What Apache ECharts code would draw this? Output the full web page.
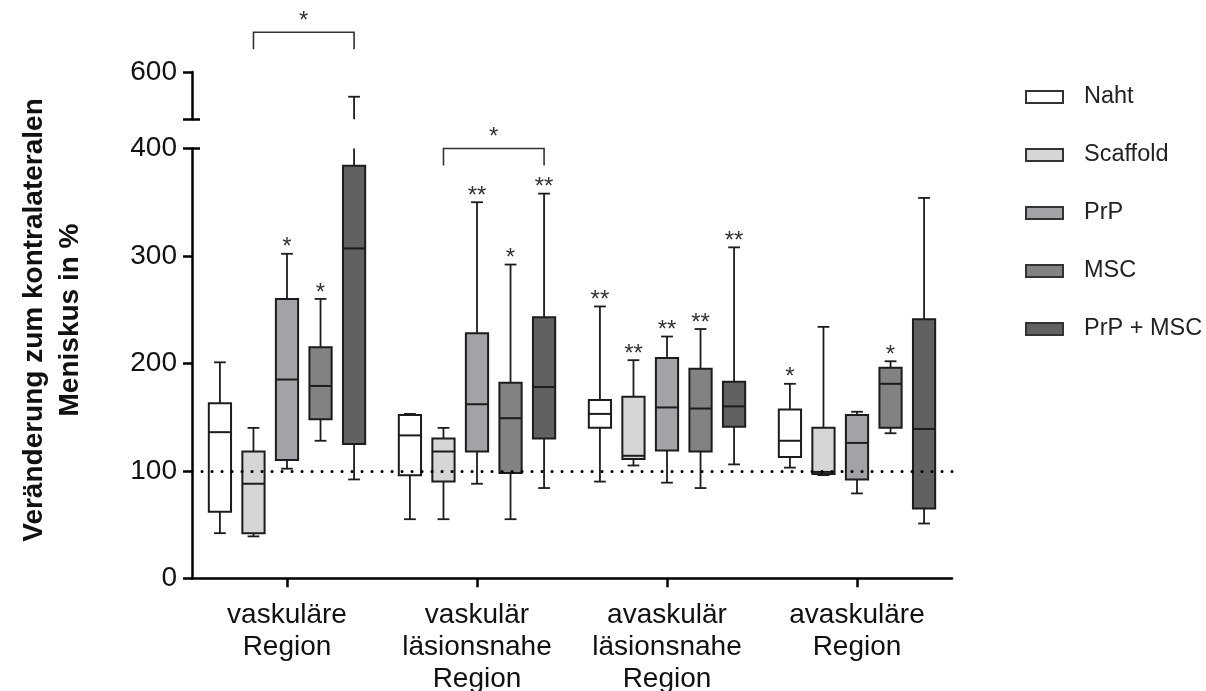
<!DOCTYPE html>
<html>
<head>
<meta charset="utf-8">
<script src="https://cdn.jsdelivr.net/npm/echarts@6/dist/echarts.min.js"></script>
<style>html,body{margin:0;padding:0;background:#fff}#c{width:1206px;height:691px}</style>
</head>
<body>
<div id="c"></div>
<script>
// ---------- data ----------
const categories = ['vaskuläre\nRegion', 'vaskulär\nläsionsnahe\nRegion', 'avaskulär\nläsionsnahe\nRegion', 'avaskuläre\nRegion'];
const groupNames = ['Naht', 'Scaffold', 'PrP', 'MSC', 'PrP + MSC'];
const groupColors = ['#ffffff', '#d6d6d6', '#a2a2a7', '#828282', '#616161'];

// each entry: [min, Q1, median, Q3, max] per category
const nahtValues     = [[42, 62, 136, 163, 201], [55, 96, 133, 152, 153], [90, 140, 153, 166, 253], [103, 113, 128, 157, 181]];
const scaffoldValues = [[39, 42, 88, 118, 140], [55, 90, 118, 130, 140], [105, 111, 114, 169, 203], [96, 97, 99, 140, 234]];
const prpValues      = [[102, 110, 185, 260, 302], [88, 118, 162, 228, 350], [89, 119, 159, 205, 225], [79, 92, 126, 152, 155]];
const mscValues      = [[128, 148, 179, 215, 260], [55, 98, 149, 182, 292], [84, 118, 158, 195, 232], [135, 140, 181, 196, 202]];
const prpMscValues   = [[92, 125, 307, 384, 577], [84, 130, 178, 243, 358], [106, 141, 160, 183, 308], [51, 65, 139, 241, 354]];

const nahtStars     = ['', '', '**', '*'];
const scaffoldStars = ['', '', '**', ''];
const prpStars      = ['*', '**', '**', ''];
const mscStars      = ['*', '*', '**', '*'];
const prpMscStars   = ['', '**', '**', ''];

const lowerAxisRange = [0, 400];
const upperAxisRange = [556, 600];
const upperTickValues = [556, 600];
const upperLabelValues = [600];
const referenceValue = 100;

const bracketCategories = [0, 1];
const bracketLevels = [637, 400];
const bracketLabels = ['*', '*'];
const bracketFromGroup = 1;
const bracketToGroup = 4;

// ---------- helpers ----------
const allValues = [nahtValues, scaffoldValues, prpValues, mscValues, prpMscValues];
const allStars = [nahtStars, scaffoldStars, prpStars, mscStars, prpMscStars];
const FONT = '"Liberation Sans", Arial, sans-serif';
const INK = '#1c1c1c';
const SPACING = 0.1765, BOXW = 0.117, CAPW = 0.062;

function starText(x, y, txt) {
  return { type: 'text', x: x, y: y - 6, z2: 10,
    style: { text: txt, font: '24px ' + FONT, fill: '#333', align: 'center', verticalAlign: 'middle' } };
}

function boxRenderer(gi, part) {
  return function (params, api) {
    const c = api.value(0);
    const mn = api.value(1), q1 = api.value(2), md = api.value(3), q3 = api.value(4), mx = api.value(5);
    const band = api.size([1, 0])[0];
    const baseV = part === 'lower' ? lowerAxisRange[0] : upperAxisRange[0];
    const cx = api.coord([c, baseV])[0] + (gi - 2) * band * SPACING;
    const bw = band * BOXW, cw = band * CAPW;
    const Y = v => api.coord([c, v])[1];
    const kids = [];
    const line = (x1, y1, x2, y2, w) => kids.push({ type: 'line', shape: { x1, y1, x2, y2 }, style: { stroke: INK, lineWidth: w || 1.8 } });
    const star = allStars[gi][params.dataIndex];
    if (part === 'lower') {
      const top = lowerAxisRange[1];
      const hasCap = mx <= top;
      const yTop = Y(Math.min(mx, top));
      line(cx, Y(q1), cx, Y(mn));
      line(cx - cw / 2, Y(mn), cx + cw / 2, Y(mn));
      line(cx, Y(q3), cx, yTop);
      if (hasCap) line(cx - cw / 2, yTop, cx + cw / 2, yTop);
      kids.push({ type: 'rect', shape: { x: cx - bw / 2, y: Y(q3), width: bw, height: Y(q1) - Y(q3) },
        style: { fill: gi === 0 ? 'none' : groupColors[gi], stroke: INK, lineWidth: 2 } });
      line(cx - bw / 2, Y(md), cx + bw / 2, Y(md), 2);
      if (hasCap && star) kids.push(starText(cx, yTop, star));
    } else {
      if (mx > upperAxisRange[0]) {
        const yTop = Y(mx);
        line(cx, Y(upperAxisRange[0]), cx, yTop);
        line(cx - cw / 2, yTop, cx + cw / 2, yTop);
        if (star) kids.push(starText(cx, yTop, star));
      }
    }
    return { type: 'group', children: kids };
  };
}

function bracketRenderer(params, api) {
  const c = api.value(0), lvl = api.value(1);
  const band = api.size([1, 0])[0];
  const base = api.coord([c, lvl]);
  const x1 = base[0] + (bracketFromGroup - 2) * band * SPACING;
  const x2 = base[0] + (bracketToGroup - 2) * band * SPACING;
  const y = base[1];
  return { type: 'group', children: [
    { type: 'polyline', shape: { points: [[x1, y + 17], [x1, y], [x2, y], [x2, y + 17]] },
      style: { stroke: '#333', lineWidth: 1.6, fill: 'none' } },
    { type: 'text', x: (x1 + x2) / 2, y: y - 11,
      style: { text: bracketLabels[params.dataIndex], font: '24px ' + FONT, fill: '#333', align: 'center', verticalAlign: 'middle' } }
  ] };
}

const series = [];
allValues.forEach((vals, gi) => {
  const data = vals.map((v, i) => [i].concat(v));
  const s = {
    type: 'custom', name: groupNames[gi], xAxisIndex: 0, yAxisIndex: 0, z: gi === 0 ? 2 : 3,
    renderItem: boxRenderer(gi, 'lower'), encode: { x: 0, y: [1, 2, 3, 4, 5] }, data: data,
    itemStyle: { color: groupColors[gi] }
  };
  if (gi === 0) {
    s.markLine = { silent: true, symbol: 'none', label: { show: false },
      lineStyle: { color: '#000', width: 3, type: [0.1, 9.9], cap: 'round' },
      data: [{ yAxis: referenceValue }] };
  }
  series.push(s);
  series.push({
    type: 'custom', name: groupNames[gi], xAxisIndex: 1, yAxisIndex: 1, z: 3,
    renderItem: boxRenderer(gi, 'upper'), encode: { x: 0, y: [1, 2, 3, 4, 5] }, data: data,
    itemStyle: { color: groupColors[gi] }
  });
});
// brackets: upper grid (level above 400) and lower grid
series.push({ type: 'custom', name: 'bracketU', xAxisIndex: 1, yAxisIndex: 1, z: 4, renderItem: bracketRenderer,
  encode: { x: 0, y: 1 }, data: bracketCategories.map((c, i) => bracketLevels[i] > lowerAxisRange[1] ? [c, bracketLevels[i]] : [c, NaN]),
  silent: true });
series.push({ type: 'custom', name: 'bracketL', xAxisIndex: 0, yAxisIndex: 0, z: 4, renderItem: bracketRenderer,
  encode: { x: 0, y: 1 }, data: bracketCategories.map((c, i) => bracketLevels[i] <= lowerAxisRange[1] ? [c, bracketLevels[i]] : [c, NaN]),
  silent: true });

const axisLine = { show: true, lineStyle: { color: '#000', width: 2.5 } };
const chart = echarts.init(document.getElementById('c'));
chart.setOption({
  animation: false,
  backgroundColor: '#fff',
  grid: [
    { left: 192, right: 254, top: 148.5, height: 429.8, outerBoundsMode: 'none', containLabel: false },
    { left: 192, right: 254, top: 72, height: (upperAxisRange[1] - upperAxisRange[0]) * 429.8 / (lowerAxisRange[1] - lowerAxisRange[0]), outerBoundsMode: 'none', containLabel: false }
  ],
  xAxis: [
    { type: 'category', gridIndex: 0, data: categories, axisLine: axisLine,
      axisTick: { show: true, alignWithLabel: true, length: 9, lineStyle: { color: '#000', width: 2.5 } },
      axisLabel: { fontSize: 28, fontFamily: FONT, color: '#111', lineHeight: 32, margin: 21, interval: 0 } },
    { type: 'category', gridIndex: 1, data: categories, show: false }
  ],
  yAxis: [
    { type: 'value', gridIndex: 0, min: lowerAxisRange[0], max: lowerAxisRange[1], interval: 100, position: 'left',
      axisLine: axisLine, splitLine: { show: false },
      axisTick: { show: true, length: 9, lineStyle: { color: '#000', width: 2.5 } },
      axisLabel: { fontSize: 28, fontFamily: FONT, color: '#111', margin: 15 } },
    { type: 'value', gridIndex: 1, min: upperAxisRange[0], max: upperAxisRange[1], position: 'left',
      axisLine: axisLine, splitLine: { show: false },
      axisTick: { show: true, length: 9, customValues: upperTickValues, lineStyle: { color: '#000', width: 2.5 } },
      axisLabel: { fontSize: 28, fontFamily: FONT, color: '#111', margin: 15, customValues: upperLabelValues } },
    { type: 'value', gridIndex: 0, min: lowerAxisRange[0], max: lowerAxisRange[1], position: 'left', offset: 0,
      axisLine: { show: false }, splitLine: { show: false }, axisLabel: { show: false },
      axisTick: { show: true, inside: true, length: 8, customValues: [lowerAxisRange[1]], lineStyle: { color: '#000', width: 2.5 } } },
    { type: 'value', gridIndex: 1, min: upperAxisRange[0], max: upperAxisRange[1], position: 'left', offset: 0,
      axisLine: { show: false }, splitLine: { show: false }, axisLabel: { show: false },
      axisTick: { show: true, inside: true, length: 8, customValues: [upperAxisRange[0]], lineStyle: { color: '#000', width: 2.5 } } }
  ],
  legend: {
    orient: 'vertical', left: 1020, top: 80, itemWidth: 37, itemHeight: 12, itemGap: 34,
    selectedMode: false,
    textStyle: { fontSize: 23.5, fontFamily: FONT, color: '#222', lineHeight: 22, padding: [0, 0, 0, 16] },
    data: groupNames.map((n, i) => ({ name: n, icon: 'rect',
      itemStyle: { color: groupColors[i], borderColor: '#333', borderWidth: 2 } }))
  },
  graphic: [
    { type: 'text', x: 52, y: 320, rotation: Math.PI / 2,
      style: { text: 'Veränderung zum kontralateralen\nMeniskus in %', font: 'bold 28px ' + FONT, fill: '#111',
        align: 'center', verticalAlign: 'middle', lineHeight: 36 } }
  ],
  series: series
});
</script>
</body>
</html>
